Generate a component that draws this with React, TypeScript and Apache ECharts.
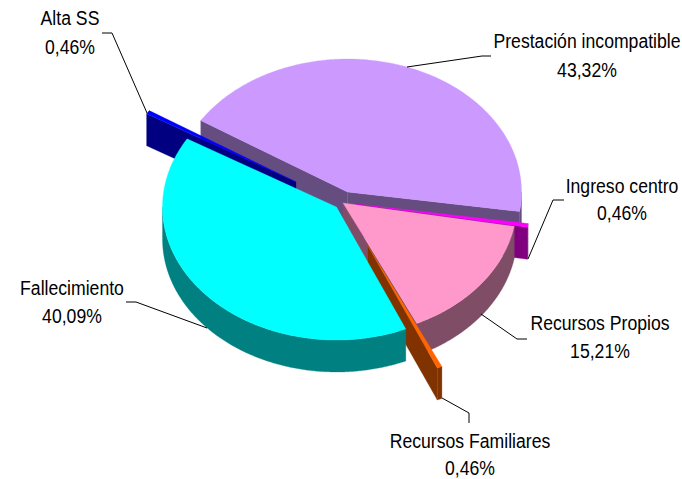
import React, { useEffect, useRef } from "react";
import * as echarts from "echarts";

const categories = [
  "Prestación incompatible",
  "Ingreso centro",
  "Recursos Propios",
  "Recursos Familiares",
  "Fallecimiento",
  "Alta SS",
];
const percentages = [43.32, 0.46, 15.21, 0.46, 40.09, 0.46];

const topColors = ["#CC99FF", "#FF00FF", "#FF99CC", "#FF6600", "#00FFFF", "#0000FF"];
const wallColors = ["#664D80", "#800080", "#804D66", "#803300", "#008080", "#000080"];
const apexes = [
  [347.5, 192],
  [356, 204],
  [343, 203],
  [368, 246],
  [336.5, 207],
  [296, 182],
];
const paintOrder = [1, 2, 3, 4, 6, 5];
const leaders = [
  [[407, 67], [482, 56], [491, 56]],
  [[528, 259], [553, 200], [564, 200]],
  [[481, 314], [517, 339], [527, 339]],
  [[442, 398], [469, 413], [469, 423]],
  [[207, 328], [136, 302], [126, 302]],
  [[147, 113], [112, 33], [102, 33]],
];
const labelSpots = [
  [587, 40, 69],
  [622, 185, 212],
  [600, 322, 350],
  [470, 440, 467],
  [72, 287, 315],
  [70, 17, 46],
];

const RX = 174;
const RY = 133;
const DEPTH = 32;
const START_ANGLE = 147.5;
const FONT = '21px "Liberation Sans", Arial, sans-serif';
const TEXT_SQUEEZE = 0.84;

const rad = (d: number) => (d * Math.PI) / 180;
const total = percentages.reduce((a, b) => a + b, 0);

function arcPoints(c: number[], from: number, to: number) {
  const n = Math.max(2, Math.ceil(Math.abs(to - from) / 0.5));
  const pts: number[][] = [];
  for (let i = 0; i <= n; i++) {
    const t = rad(from + ((to - from) * i) / n);
    pts.push([c[0] + RX * Math.cos(t), c[1] - RY * Math.sin(t)]);
  }
  return pts;
}

function renderSlice(params: any, api: any) {
  const i = params.dataIndex;
  const before = percentages.slice(0, i).reduce((a, b) => a + b, 0);
  const a = START_ANGLE - (before / total) * 360;
  const b = a - (api.value(0) / total) * 360;
  const c = apexes[i];
  const z = paintOrder[i] * 10;
  const children: any[] = [];
  const poly = (points: number[][], fill: string, z2: number) =>
    children.push({
      type: "polygon",
      shape: { points },
      style: { fill, stroke: fill, lineWidth: 0.3 },
      z2,
    });
  const down = (p: number[]) => [p[0], p[1] + DEPTH];
  const wallEdge = (ang: number) => {
    const o = arcPoints(c, ang, ang)[0];
    poly([c, o, down(o), down(c)], wallColors[i], z);
  };
  if (Math.cos(rad(a)) < 0) wallEdge(a);
  if (Math.cos(rad(b)) > 0) wallEdge(b);
  for (const shift of [0, -360]) {
    const hi = Math.min(a, 0 + shift);
    const lo = Math.max(b, -180 + shift);
    if (hi > lo) {
      const arc = arcPoints(c, hi, lo);
      poly([...arc, ...arc.slice().reverse().map(down)], wallColors[i], z + 1);
    }
  }
  poly([c, ...arcPoints(c, a, b)], topColors[i], z + 2);

  children.push({
    type: "polyline",
    shape: { points: leaders[i] },
    style: { stroke: "#000", lineWidth: 1, fill: "none" },
    z2: 200,
  });
  const [lx, y1, y2] = labelSpots[i];
  const value = `${api.value(0).toFixed(2).replace(".", ",")}%`;
  [[categories[i], y1], [value, y2]].forEach(([text, y]) =>
    children.push({
      type: "text",
      x: lx,
      y,
      scaleX: TEXT_SQUEEZE,
      style: {
        text,
        x: 0,
        y: 0,
        font: FONT,
        fill: "#000",
        textAlign: "center",
        textVerticalAlign: "middle",
      },
      z2: 201,
    })
  );
  return { type: "group", children };
}

export default function App() {
  const ref = useRef<HTMLDivElement>(null);
  useEffect(() => {
    const chart = echarts.init(ref.current!, undefined, { renderer: "svg" });
    chart.setOption({
      animation: false,
      backgroundColor: "#fff",
      series: [
        {
          type: "custom",
          coordinateSystem: "none",
          silent: true,
          renderItem: renderSlice,
          data: percentages.map((v) => [v]),
        },
      ],
    });
    return () => chart.dispose();
  }, []);
  return <div ref={ref} style={{ position: "absolute", left: 0, top: 0, width: 682, height: 479 }} />;
}
